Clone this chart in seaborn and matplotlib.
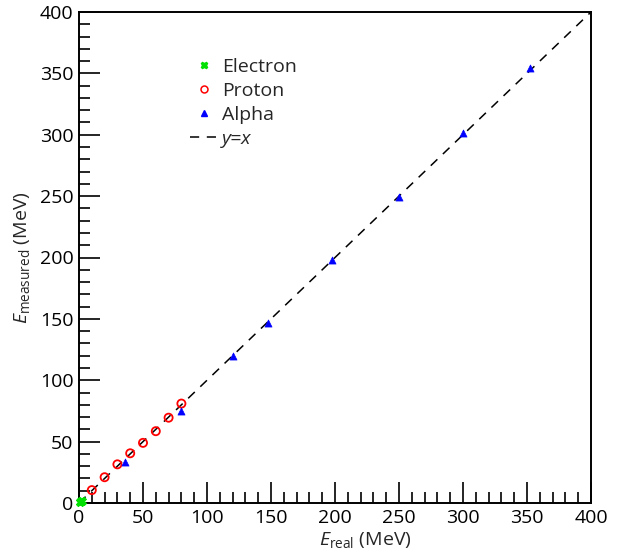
import matplotlib
matplotlib.use("Agg")
import matplotlib.pyplot as plt
from matplotlib.ticker import MultipleLocator
from matplotlib.lines import Line2D
import seaborn as sns
import pandas as pd

# Reconstructed energy versus true energy for each particle type (MeV)
electron_real = [0.5, 1.0, 1.5, 2.0]
electron_meas = [0.5, 1.0, 1.5, 2.0]

proton_real = [10, 20, 30, 40, 50, 60, 70, 80]
proton_meas = [10.5, 21, 31.5, 40.5, 49, 58.5, 69.5, 81]

alpha_real = [36, 80, 120, 148, 198, 250, 300, 352]
alpha_meas = [33, 75, 120, 147, 198, 249.5, 301.5, 354.5]

diag = [0, 400]

sns.set_style("white")
plt.rcParams["font.family"] = ["Open Sans", "DejaVu Sans"]
plt.rcParams["mathtext.fontset"] = "custom"
plt.rcParams["mathtext.rm"] = "Open Sans"
plt.rcParams["mathtext.it"] = "Open Sans:italic"

fig = plt.figure(figsize=(6.17, 5.53), dpi=100)
ax = fig.add_axes([79 / 617, 1 - 503 / 553, 512 / 617, 491 / 553])

df_e = pd.DataFrame({"real": electron_real, "meas": electron_meas})
df_p = pd.DataFrame({"real": proton_real, "meas": proton_meas})
df_a = pd.DataFrame({"real": alpha_real, "meas": alpha_meas})
df_d = pd.DataFrame({"real": diag, "meas": diag})

sns.lineplot(data=df_d, x="real", y="meas", ax=ax, color="black",
             linewidth=1.1, linestyle=(0, (6, 5)), zorder=1)
sns.scatterplot(data=df_e, x="real", y="meas", ax=ax, marker="X",
                color="#00e000", s=35, edgecolor="#00e000", linewidth=0.5,
                zorder=3, clip_on=False)
sns.scatterplot(data=df_p, x="real", y="meas", ax=ax, marker="o",
                facecolor="none", edgecolor="red", s=34, linewidth=1.3,
                zorder=3)
sns.scatterplot(data=df_a, x="real", y="meas", ax=ax, marker="^",
                color="blue", edgecolor="blue", s=26, linewidth=0.5,
                zorder=4)

ax.set_xlim(0, 400)
ax.set_ylim(0, 400)
ax.xaxis.set_major_locator(MultipleLocator(50))
ax.xaxis.set_minor_locator(MultipleLocator(10))
ax.yaxis.set_major_locator(MultipleLocator(50))
ax.yaxis.set_minor_locator(MultipleLocator(10))
ax.tick_params(which="both", direction="in", bottom=True, left=True,
               top=False, right=False, width=1.2, labelsize=14,
               colors="black")
ax.tick_params(which="major", length=15, pad=4)
ax.tick_params(which="minor", length=8)
for sp in ax.spines.values():
    sp.set_visible(True)
    sp.set_color("black")
    sp.set_linewidth(1.4)

ax.set_xlabel("")
ax.set_ylabel("")
fig.text(365 / 617, 1 - 540 / 553, r"$E_{\mathrm{real}}$ (MeV)",
         ha="center", va="center", fontsize=14)
fig.text(22 / 617, 1 - 258 / 553, r"$E_{\mathrm{measured}}$ (MeV)",
         ha="center", va="center", fontsize=14, rotation=90)

handles = [
    Line2D([], [], linestyle="none", marker="X", color="#00e000",
           markersize=5),
    Line2D([], [], linestyle="none", marker="o", markerfacecolor="none",
           markeredgecolor="red", markersize=5, markeredgewidth=1.1),
    Line2D([], [], linestyle="none", marker="^", color="blue",
           markersize=5),
    Line2D([], [], color="black", linestyle=(0, (6, 5)), linewidth=1.1),
]
labels = ["Electron", "Proton", "Alpha", "y=x"]
leg = ax.legend(handles, labels, loc="upper left",
                bbox_to_anchor=(111 / 512, 1 - 46 / 491), frameon=False,
                fontsize=14, handlelength=1.45, handletextpad=0.2,
                labelspacing=0.3, borderaxespad=0, borderpad=0)
leg.get_texts()[3].set_fontstyle("italic")

fig.savefig("out.png", dpi=100)
